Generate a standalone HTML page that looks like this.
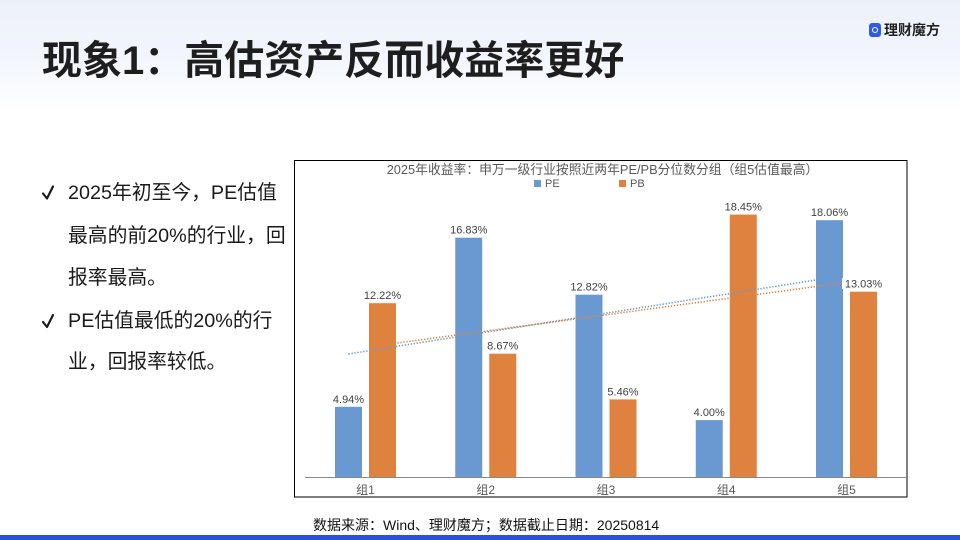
<!DOCTYPE html>
<html><head><meta charset="utf-8">
<style>
html,body{margin:0;padding:0;}
body{width:960px;height:540px;position:relative;overflow:hidden;background:#fff;font-family:"Liberation Sans","Noto Sans CJK SC",sans-serif;}
.hdr{position:absolute;left:0;top:0;width:960px;height:115px;background:linear-gradient(#edf1fa 0px,#f2f5fc 55px,#f8fafd 85px,#fff 112px);}
.title{position:absolute;left:42px;top:36px;line-height:50px;font-size:40px;font-weight:700;color:#1e1e1e;white-space:nowrap;font-family:"Liberation Sans","Noto Sans CJK SC",sans-serif;}
.logo{position:absolute;left:869px;top:23px;width:12px;height:14px;background:#2f5be8;border-radius:3px;}
.logo::after{content:"";position:absolute;left:3px;top:4px;width:4px;height:4px;border:1.5px solid #fff;border-radius:50%;}
.logot{position:absolute;left:884px;top:21px;line-height:18px;font-size:14px;font-weight:700;color:#222;white-space:nowrap;}
.b{position:absolute;left:68px;line-height:30px;font-size:19.8px;color:#1a1a1a;white-space:nowrap;}
.foot{position:absolute;left:313px;top:515px;line-height:20px;font-size:14px;color:#111;white-space:nowrap;}
.bar{position:absolute;left:0;top:535px;width:960px;height:5px;background:#2c50dc;}
svg{position:absolute;left:0;top:0;}
</style></head><body>
<div class="hdr"></div>
<div class="title">现象1：高估资产反而收益率更好</div>
<div class="logo"></div>
<div class="logot">理财魔方</div>

<div class="b" style="top:178px">2025年初至今，PE估值</div>
<div class="b" style="top:221px">最高的前20%的行业，回</div>
<div class="b" style="top:263px">报率最高。</div>
<div class="b" style="top:306px">PE估值最低的20%的行</div>
<div class="b" style="top:347px">业，回报率较低。</div>

<svg width="960" height="540" viewBox="0 0 960 540">
<path d="M43 193.5 L47 198.5 L53 186.5" fill="none" stroke="#1a1a1a" stroke-width="2.2" stroke-linecap="round" stroke-linejoin="round"/>
<path d="M43 322 L47 327 L53 315" fill="none" stroke="#1a1a1a" stroke-width="2.2" stroke-linecap="round" stroke-linejoin="round"/>

<rect x="294.5" y="160.5" width="612.5" height="336.5" fill="#fff" stroke="#000" stroke-width="1"/>
<text x="602.5" y="174" text-anchor="middle" font-size="12.8" fill="#595959" font-family="Liberation Sans, Noto Sans CJK SC, sans-serif">2025年收益率：申万一级行业按照近两年PE/PB分位数分组（组5估值最高）</text>
<rect x="534" y="180" width="7" height="7" fill="#6999d0"/>
<text x="545" y="187" font-size="11" fill="#595959" font-family="Liberation Sans, sans-serif">PE</text>
<rect x="619" y="180" width="7" height="7" fill="#e0823f"/>
<text x="630" y="187" font-size="11" fill="#595959" font-family="Liberation Sans, sans-serif">PB</text>

<g fill="#6999d0">
<rect x="335" y="406.8" width="27" height="70.2"/>
<rect x="455.25" y="237.7" width="27" height="239.3"/>
<rect x="575.5" y="294.7" width="27" height="182.3"/>
<rect x="695.75" y="420.1" width="27" height="56.9"/>
<rect x="816" y="220.2" width="27" height="256.8"/>
</g>
<g fill="#e0823f">
<rect x="369" y="303.2" width="27" height="173.8"/>
<rect x="489.25" y="353.7" width="27" height="123.3"/>
<rect x="609.5" y="399.4" width="27" height="77.6"/>
<rect x="729.75" y="214.6" width="27" height="262.4"/>
<rect x="850" y="291.7" width="27" height="185.3"/>
</g>
<line x1="305" y1="477.5" x2="906" y2="477.5" stroke="#898989" stroke-width="1"/>

<line x1="348.5" y1="354" x2="829.5" y2="277.8" stroke="#6999d0" stroke-width="1.6" stroke-dasharray="1.3 1.7"/>
<line x1="382.5" y1="345" x2="863.5" y2="280.1" stroke="#e0823f" stroke-width="1.6" stroke-dasharray="1.3 1.7"/>

<g font-size="11" fill="#404040" text-anchor="middle" font-family="Liberation Sans, sans-serif">
<text x="348.5" y="402.8">4.94%</text>
<text x="468.75" y="233.7">16.83%</text>
<text x="589" y="290.7">12.82%</text>
<text x="709.25" y="416.1">4.00%</text>
<text x="829.5" y="216.2">18.06%</text>
<text x="382.5" y="299.2">12.22%</text>
<text x="502.75" y="349.7">8.67%</text>
<text x="623" y="395.4">5.46%</text>
<text x="743.25" y="210.6">18.45%</text>
<rect x="842" y="278" width="42" height="11" fill="#fff"/>
<text x="863.5" y="287.7">13.03%</text>
</g>
<g font-size="12" fill="#595959" text-anchor="middle" font-family="Liberation Sans, Noto Sans CJK SC, sans-serif">
<text x="365.5" y="494">组1</text>
<text x="485.75" y="494">组2</text>
<text x="606" y="494">组3</text>
<text x="726.25" y="494">组4</text>
<text x="846.5" y="494">组5</text>
</g>
</svg>

<div class="foot">数据来源：Wind、理财魔方；数据截止日期：20250814</div>
<div class="bar"></div>
</body></html>
